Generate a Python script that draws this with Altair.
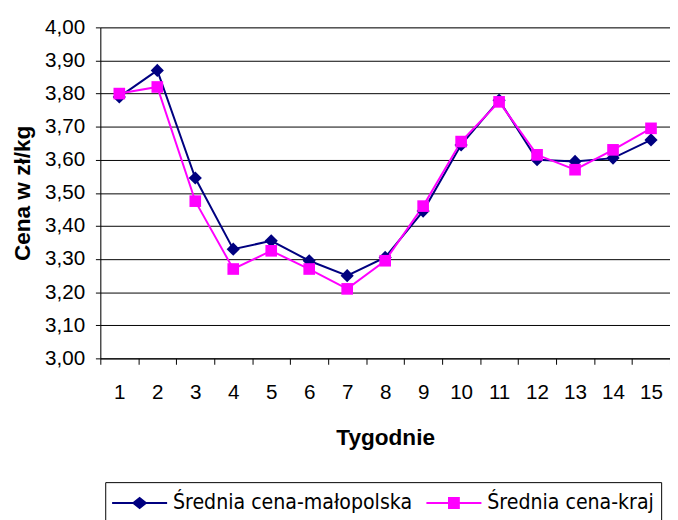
import altair as alt
import pandas as pd

weeks = list(range(1, 16))
malopolska = [3.79, 3.87, 3.545, 3.33, 3.355, 3.295, 3.25, 3.305, 3.445, 3.645, 3.78, 3.60, 3.595, 3.605, 3.66]
kraj = [3.80, 3.82, 3.475, 3.27, 3.325, 3.27, 3.21, 3.295, 3.46, 3.655, 3.775, 3.615, 3.57, 3.63, 3.695]
series = ["Średnia cena-małopolska", "Średnia cena-kraj"]
colors = ["#000080", "#FF00FF"]

rows = []
for w, a, b in zip(weeks, malopolska, kraj):
    rows.append({"week": w, "value": a, "series": series[0]})
    rows.append({"week": w, "value": b, "series": series[1]})
df = pd.DataFrame(rows)

FONT = "Liberation Sans, Arial"

x = alt.X("week:O", title="Tygodnie",
          scale=alt.Scale(type="band", paddingInner=0, paddingOuter=0),
          axis=alt.Axis(labelAngle=0, tickBand="extent", grid=False, domainColor="black",
                        tickColor="black", tickSize=6, labelFontSize=21, labelFont=FONT,
                        labelColor="black", labelPadding=18, titleFont=FONT, titleFontSize=23,
                        titleFontWeight="bold", titleColor="black", titlePadding=25))
y = alt.Y("value:Q", title="Cena w zł/kg",
          scale=alt.Scale(domain=[3.0, 4.0], nice=False, zero=False),
          axis=alt.Axis(values=[3.0, 3.1, 3.2, 3.3, 3.4, 3.5, 3.6, 3.7, 3.8, 3.9, 4.0],
                        labelExpr="replace(format(datum.value, '.2f'), '.', ',')",
                        grid=True, gridColor="black", gridWidth=1, domainColor="black",
                        tickColor="black", tickSize=5, labelFontSize=21, labelFont=FONT,
                        labelColor="black", labelPadding=11, titleFont=FONT, titleFontSize=23,
                        titleFontWeight="bold", titleColor="black", titlePadding=10))
color = alt.Color("series:N", scale=alt.Scale(domain=series, range=colors), legend=None)

base = alt.Chart(df).encode(x=x, y=y)

line = base.mark_line(strokeWidth=2).encode(color=color)
points = base.mark_point(filled=True, opacity=1).encode(
    color=color,
    shape=alt.Shape("series:N", scale=alt.Scale(domain=series, range=["diamond", "square"]), legend=None),
    size=alt.Size("series:N", scale=alt.Scale(domain=series, range=[180, 140]), legend=None),
)

leg_paths = [
    "M-1,-0.07L3,-0.07L3,0.07L-1,0.07ZM1,-0.46L1.57,0L1,0.46L0.43,0Z",
    "M-1,-0.07L3,-0.07L3,0.07L-1,0.07ZM0.57,-0.43L1.43,-0.43L1.43,0.43L0.57,0.43Z",
]
leg = alt.Legend(
    title=None, orient="none", legendX=5, legendY=463,
    direction="horizontal", strokeColor="black", padding=7,
    labelFontSize=21.5, labelFont="DejaVu Sans Condensed, Liberation Sans",
    labelColor="black", labelOffset=34, columnPadding=14,
    symbolSize=784, symbolStrokeWidth=0, symbolOpacity=1, labelLimit=400,
)
legend_layer = base.mark_point(opacity=0, filled=True).encode(
    fill=alt.Fill("series:N", scale=alt.Scale(domain=series, range=colors), legend=leg),
    shape=alt.Shape("series:N", scale=alt.Scale(domain=series, range=leg_paths), legend=leg),
)

chart = alt.layer(line, points, legend_layer).resolve_scale(
    shape="independent", size="independent", fill="independent"
).resolve_legend(shape="independent", fill="independent").properties(
    width=580, height=337,
    autosize=alt.AutoSizeParams(type="none"),
    padding={"left": 94, "top": 15, "right": 0, "bottom": 170},
).configure_view(stroke=None).configure(background="white")

chart.save("out.html", embed_options={"renderer": "svg", "actions": False})
